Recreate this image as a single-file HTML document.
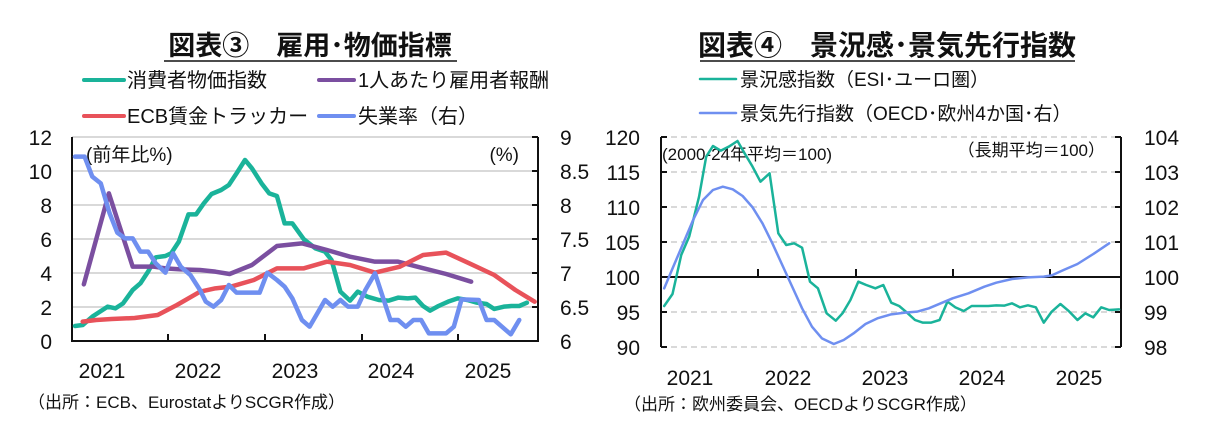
<!DOCTYPE html>
<html><head><meta charset="utf-8"><style>
body{margin:0;background:#fff;width:1218px;height:440px;overflow:hidden}
svg{display:block}
text{font-family:"Liberation Sans","Noto Sans CJK JP",sans-serif;fill:#111}
</style></head><body>
<svg width="1218" height="440" viewBox="0 0 1218 440">
<!-- LEFT CHART -->
<text x="310" y="55" font-size="27" font-weight="bold" text-anchor="middle">図表③　雇用･物価指標</text>
<line x1="164" y1="61" x2="457" y2="61" stroke="#111" stroke-width="1.5"/>
<g stroke-width="4" stroke-linecap="round">
<line x1="84" y1="80" x2="124" y2="80" stroke="#1ab39a"/>
<line x1="319" y1="80" x2="354" y2="80" stroke="#7b4fa0"/>
<line x1="84" y1="116" x2="124" y2="116" stroke="#e8525a"/>
<line x1="319" y1="116" x2="354" y2="116" stroke="#6f8ff0"/>
</g>
<g font-size="20">
<text x="127" y="87">消費者物価指数</text>
<text x="358" y="87">1人あたり雇用者報酬</text>
<text x="127" y="123">ECB賃金トラッカー</text>
<text x="358" y="123">失業率（右）</text>
</g>
<g stroke="#d9d9d9" stroke-width="2">
<line x1="72" y1="137" x2="538" y2="137"/><line x1="72" y1="171" x2="538" y2="171"/>
<line x1="72" y1="205" x2="538" y2="205"/><line x1="72" y1="239" x2="538" y2="239"/>
<line x1="72" y1="273" x2="538" y2="273"/><line x1="72" y1="307" x2="538" y2="307"/>
</g>
<g stroke="#111" stroke-width="2" fill="none">
<path d="M72 137V341H538V137"/>
<path d="M168 341v-7M265 341v-7M362 341v-7M458 341v-7"/>
<path d="M538 137h-6M538 171h-6M538 205h-6M538 239h-6M538 273h-6M538 307h-6"/>
</g>
<g font-size="21" text-anchor="end">
<text x="52" y="145">12</text><text x="52" y="179">10</text><text x="52" y="213">8</text>
<text x="52" y="247">6</text><text x="52" y="281">4</text><text x="52" y="315">2</text><text x="52" y="349">0</text>
</g>
<g font-size="21">
<text x="560" y="145">9</text><text x="560" y="179">8.5</text><text x="560" y="213">8</text>
<text x="560" y="247">7.5</text><text x="560" y="281">7</text><text x="560" y="315">6.5</text><text x="560" y="349">6</text>
</g>
<g font-size="21" text-anchor="middle">
<text x="102" y="378">2021</text><text x="198" y="378">2022</text><text x="295" y="378">2023</text><text x="391" y="378">2024</text><text x="488" y="378">2025</text>
</g>
<text x="86" y="161" font-size="19">(前年比%)</text>
<text x="519" y="161" font-size="19" text-anchor="end">(%)</text>
<text x="28" y="408" font-size="17">（出所：ECB、EurostatよりSCGR作成）</text>
<g transform="translate(0,120) scale(0.38462,0.33333)" fill="none" stroke-width="4.5" stroke-linejoin="round" stroke-linecap="round">
<polyline vector-effect="non-scaling-stroke" stroke="#1ab39a" points="195,618 215,615 240,590 280,560 300,565 320,550 345,510 365,490 385,455 405,412 430,408 445,400 465,365 490,283 510,283 530,250 550,222 575,210 595,195 615,160 637,120 655,145 680,190 700,220 720,228 740,310 760,310 790,358 820,385 845,395 862,420 885,515 910,542 930,515 955,530 985,540 1010,542 1035,533 1060,535 1080,533 1100,558 1118,572 1140,558 1165,545 1190,535 1215,540 1240,548 1265,552 1285,567 1310,560 1330,558 1350,558 1370,548"/>
<polyline vector-effect="non-scaling-stroke" stroke="#7b4fa0" points="218,493 283,220 345,440 400,440 430,445 470,448 520,450 560,455 597,462 655,435 720,378 785,370 850,390 910,410 975,425 1035,425 1095,443 1160,462 1225,485"/>
<polyline vector-effect="non-scaling-stroke" stroke="#e8525a" points="215,605 250,600 290,597 350,594 410,585 460,555 520,515 560,505 600,500 660,480 720,445 790,445 850,425 910,435 975,458 1040,440 1100,405 1160,398 1220,430 1285,465 1340,510 1390,545"/>
<polyline vector-effect="non-scaling-stroke" stroke="#6f8ff0" points="195,110 220,110 240,170 262,190 285,280 305,338 325,355 345,355 365,395 385,395 405,430 430,458 450,400 470,440 495,465 520,510 535,545 555,560 575,540 595,495 615,518 675,518 695,458 720,480 740,500 760,535 785,600 805,620 825,580 845,540 865,560 885,540 905,560 930,560 950,510 975,460 995,530 1015,600 1035,600 1055,620 1075,600 1095,600 1115,640 1160,640 1180,620 1200,538 1245,540 1265,600 1285,600 1305,620 1328,643 1350,600"/>
</g>

<!-- RIGHT CHART -->
<text x="887" y="55" font-size="28" font-weight="bold" text-anchor="middle">図表④　景況感･景気先行指数</text>
<line x1="700" y1="61" x2="1075" y2="61" stroke="#111" stroke-width="1.5"/>
<g stroke-width="2.5" stroke-linecap="round">
<line x1="700" y1="79" x2="736" y2="79" stroke="#1ab39a"/>
<line x1="700" y1="113" x2="736" y2="113" stroke="#6f8ff0"/>
</g>
<g font-size="19">
<text x="740" y="86">景況感指数（ESI･ユーロ圏）</text>
<text x="740" y="120">景気先行指数（OECD･欧州4か国･右）</text>
</g>
<g stroke="#d9d9d9" stroke-width="2" stroke-dasharray="6,4">
<line x1="661" y1="137" x2="1121" y2="137"/><line x1="661" y1="172" x2="1121" y2="172"/>
<line x1="661" y1="207" x2="1121" y2="207"/><line x1="661" y1="242" x2="1121" y2="242"/>
<line x1="661" y1="312" x2="1121" y2="312"/><line x1="661" y1="347" x2="1121" y2="347"/>
</g>
<g stroke="#111" stroke-width="2" fill="none">
<path d="M661 137V347M1121 137V347M661 277H1121"/>
<path d="M758 277v-8M856 277v-8M953 277v-8M1050 277v-8"/>
<path d="M661 137h6M661 172h6M661 207h6M661 242h6M661 312h6M661 347h6"/>
<path d="M1121 137h-6M1121 172h-6M1121 207h-6M1121 242h-6M1121 312h-6M1121 347h-6"/>
</g>
<g font-size="21" text-anchor="end">
<text x="640" y="145">120</text><text x="640" y="180">115</text><text x="640" y="215">110</text>
<text x="640" y="250">105</text><text x="640" y="285">100</text><text x="640" y="320">95</text><text x="640" y="355">90</text>
</g>
<g font-size="21">
<text x="1144" y="145">104</text><text x="1144" y="180">103</text><text x="1144" y="215">102</text>
<text x="1144" y="250">101</text><text x="1144" y="285">100</text><text x="1144" y="320">99</text><text x="1144" y="355">98</text>
</g>
<g font-size="21" text-anchor="middle">
<text x="690" y="385">2021</text><text x="788" y="385">2022</text><text x="885" y="385">2023</text><text x="982" y="385">2024</text><text x="1079" y="385">2025</text>
</g>
<text x="662" y="160" font-size="17">(2000-24年平均＝100)</text>
<text x="1105" y="156" font-size="17" text-anchor="end">（長期平均＝100）</text>
<text x="624" y="410" font-size="17">（出所：欧州委員会、OECDよりSCGR作成）</text>
<g transform="translate(600,120) scale(0.39623,0.33333)" fill="none" stroke-linejoin="round" stroke-linecap="round">
<polyline vector-effect="non-scaling-stroke" stroke-width="2.5" stroke="#1ab39a" points="162,558 183,522 205,405 225,350 250,230 268,110 285,78 305,92 325,80 347,63 365,100 385,140 405,185 428,160 450,340 470,375 490,370 510,383 530,485 550,505 572,580 595,602 612,580 632,540 652,485 672,495 695,505 715,495 735,548 755,558 775,578 795,600 815,608 835,608 857,600 877,545 897,562 918,573 938,558 960,558 980,558 1000,556 1020,557 1040,550 1060,562 1080,556 1100,562 1120,608 1140,575 1162,552 1182,572 1205,600 1225,580 1245,592 1265,562 1285,570 1310,568"/>
<polyline vector-effect="non-scaling-stroke" stroke-width="2.5" stroke="#6f8ff0" points="162,505 185,440 210,370 235,300 260,240 285,210 310,200 335,208 360,228 385,262 410,310 435,370 460,435 485,500 510,565 535,620 560,655 590,672 615,660 640,640 670,612 700,595 735,583 770,578 800,575 830,565 860,550 890,535 930,520 970,500 1000,488 1040,477 1080,472 1120,470 1140,466 1170,450 1205,432 1245,402 1285,370"/>
</g>
</svg>
</body></html>
